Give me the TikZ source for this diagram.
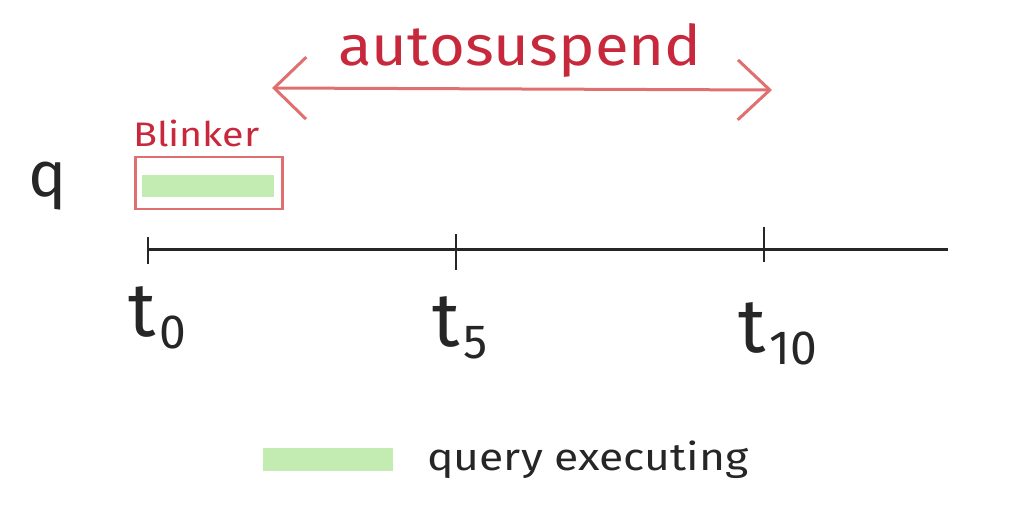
\documentclass[tikz,border=0pt]{standalone}
\usepackage{fontspec}
\setmainfont{Fira Sans}
\usetikzlibrary{arrows.meta}
\definecolor{hred}{HTML}{C8283C}
\definecolor{lred}{HTML}{E07070}
\definecolor{lgreen}{HTML}{C2ECB2}
\newcommand{\tsub}[1]{{\fontsize{76}{76}\selectfont t}\kern4pt\raisebox{-12pt}{\fontsize{48}{48}\selectfont #1}}
\begin{document}
\begin{tikzpicture}[x=1pt,y=-1pt,
  axis/.style={line width=3pt,black!85},
  tickmark/.style={line width=2pt,black!85},
  tlabel/.style={black!85,inner sep=0pt},
  redtext/.style={text=hred,inner sep=0pt},
  execbar/.style={fill=lgreen,draw=none}]
\useasboundingbox (0,0) rectangle (1024,511);
% timeline
\coordinate (a0) at (148,249);
\coordinate (a1) at (948,249);
\draw[axis] (a0) -- (a1);
\coordinate (k0a) at (148,237); \coordinate (k0b) at (148,264);
\coordinate (k5a) at (456,234); \coordinate (k5b) at (456,270);
\coordinate (k10a) at (764,227); \coordinate (k10b) at (764,262);
\draw[tickmark] (k0a) -- (k0b);
\draw[tickmark] (k5a) -- (k5b);
\draw[tickmark] (k10a) -- (k10b);
\node[tlabel,anchor=base west] (t0) at (128,336) {\tsub{0}};
\node[tlabel,anchor=base west] (t5) at (432,346) {\tsub{5}};
\node[tlabel,anchor=base west] (t10) at (738,352) {\tsub{10}};
% q label
\node[tlabel,anchor=base,font=\fontsize{64}{64}\selectfont] (q) at (48,196) {q};
% blinker box
\node[draw=lred,line width=2.5pt,minimum width=147pt,minimum height=52pt,inner sep=0pt] (box) at (209,183) {};
\node[execbar,minimum width=132pt,minimum height=22pt,inner sep=0pt] (bar) at (208,185.5) {};
\node[redtext,anchor=base west,font=\fontsize{34}{34}\selectfont] (blk) at (133,146) {\scalebox{1.16}[1]{Blinker}};
% autosuspend arrow
\coordinate (s0) at (272,88);
\coordinate (s1) at (772,90);
\draw[lred,line width=3pt,{Straight Barb[length=32pt,width=62pt]}-{Straight Barb[length=32pt,width=60pt]}] (s0) -- (s1);
\node[redtext,anchor=base,font=\fontsize{56}{56}\selectfont] (auto) at (520,66) {\scalebox{1.1}[1]{autosuspend}};
% legend
\node[execbar,minimum width=130pt,minimum height=23pt,inner sep=0pt] (leg) at (328,459.5) {};
\node[anchor=base west,inner sep=0pt,black!85,font=\fontsize{38}{38}\selectfont] (legt) at (427,470) {\scalebox{1.17}[1]{query executing}};
\end{tikzpicture}
\end{document}
